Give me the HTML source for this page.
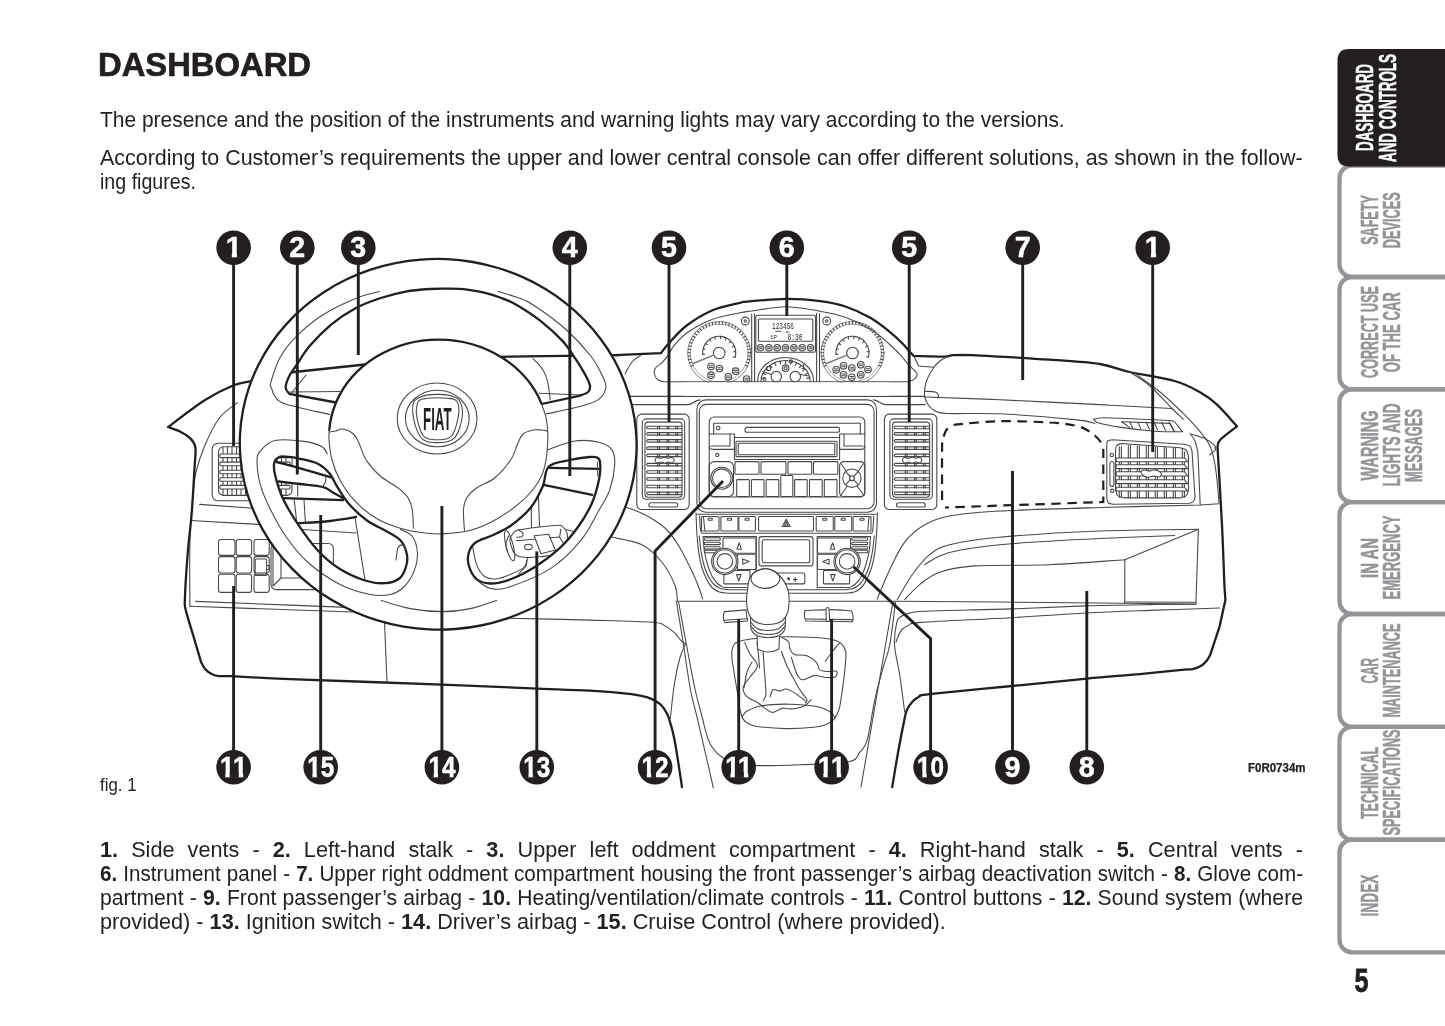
<!DOCTYPE html>
<html lang="en"><head><meta charset="utf-8"><title>Dashboard</title>
<style>
html,body{margin:0;padding:0;background:#fff;}
body{width:1445px;height:1026px;position:relative;overflow:hidden;font-family:"Liberation Sans",sans-serif;color:#231f20;}
.ln{position:absolute;white-space:nowrap;transform-origin:0 0;line-height:1;margin:0;}
.j{white-space:normal;text-align:justify;text-align-last:justify;}
b{font-weight:bold;}
svg{position:absolute;left:0;top:0;}
.k{fill:none;stroke:#231f20;stroke-width:2.3;stroke-linecap:round;stroke-linejoin:round;}
.m{fill:none;stroke:#231f20;stroke-width:1.5;stroke-linecap:round;stroke-linejoin:round;}
.t{fill:none;stroke:#4a4748;stroke-width:1.08;stroke-linecap:round;stroke-linejoin:round;}
.w{fill:#fff;}
.ld{fill:none;stroke:#231f20;stroke-width:2.9;stroke-linecap:butt;stroke-linejoin:miter;}
.cn{font-family:"Liberation Sans",sans-serif;font-weight:bold;fill:#fff;stroke:#fff;stroke-width:0.5;text-anchor:middle;}
.tab{font-family:"Liberation Sans",sans-serif;font-weight:bold;text-anchor:middle;}
#pg{position:absolute;left:0;top:0;width:1445px;height:1026px;will-change:transform;}
</style></head><body><div id="pg">
<div class="ln" style="left:98.2px;top:48.4px;font-size:33px;transform:scaleX(0.9930);font-weight:bold;-webkit-text-stroke:0.7px #231f20;"><b>DASHBOARD</b></div>
<div class="ln" style="left:99.5px;top:108.8px;font-size:22.6px;transform:scaleX(0.9277);">The presence and the position of the instruments and warning lights may vary according to the versions.</div>
<div class="ln" style="left:99.5px;top:146.6px;font-size:22.6px;transform:scaleX(0.9494);">According to Customer’s requirements the upper and lower central console can offer different solutions, as shown in the follow-</div>
<div class="ln" style="left:99.5px;top:170.7px;font-size:22.6px;transform:scaleX(0.8684);">ing figures.</div>
<div class="ln" style="left:99.5px;top:775.2px;font-size:19px;transform:scaleX(0.8861);">fig. 1</div>
<div class="ln j" style="left:99.5px;top:838.5px;font-size:22.6px;transform:scaleX(0.9589);width:1254.5px;"><b>1.</b> Side vents - <b>2.</b> Left-hand stalk - <b>3.</b> Upper left oddment compartment - <b>4.</b> Right-hand stalk - <b>5.</b> Central vents -</div>
<div class="ln j" style="left:99.5px;top:862.5px;font-size:22.6px;transform:scaleX(0.9124);width:1318.5px;"><b>6.</b> Instrument panel - <b>7.</b> Upper right oddment compartment housing the front passenger’s airbag deactivation switch - <b>8.</b> Glove com-</div>
<div class="ln j" style="left:99.5px;top:886.9px;font-size:22.6px;transform:scaleX(0.9366);width:1284.4px;">partment - <b>9.</b> Front passenger’s airbag - <b>10.</b> Heating/ventilation/climate controls - <b>11.</b> Control buttons - <b>12.</b> Sound system (where</div>
<div class="ln" style="left:99.5px;top:910.8px;font-size:22.6px;transform:scaleX(0.9589);">provided) - <b>13.</b> Ignition switch - <b>14.</b> Driver’s airbag - <b>15.</b> Cruise Control (where provided).</div>
<svg width="1445" height="1026" viewBox="0 0 1445 1026">
<path d="M1450,165.5 H1352 A12.5,12.5 0 0 0 1339.5,178 V264.5 A12.5,12.5 0 0 0 1352,277 H1450" fill="none" stroke="#939598" stroke-width="4.3"/>
<path d="M1450,277 H1352 A12.5,12.5 0 0 0 1339.5,289.5 V376.9 A12.5,12.5 0 0 0 1352,389.4 H1450" fill="none" stroke="#939598" stroke-width="4.3"/>
<path d="M1450,389.4 H1352 A12.5,12.5 0 0 0 1339.5,401.9 V489.7 A12.5,12.5 0 0 0 1352,502.2 H1450" fill="none" stroke="#939598" stroke-width="4.3"/>
<path d="M1450,502.2 H1352 A12.5,12.5 0 0 0 1339.5,514.7 V601.5 A12.5,12.5 0 0 0 1352,614 H1450" fill="none" stroke="#939598" stroke-width="4.3"/>
<path d="M1450,614 H1352 A12.5,12.5 0 0 0 1339.5,626.5 V714.3 A12.5,12.5 0 0 0 1352,726.8 H1450" fill="none" stroke="#939598" stroke-width="4.3"/>
<path d="M1450,726.8 H1352 A12.5,12.5 0 0 0 1339.5,739.3 V827.2 A12.5,12.5 0 0 0 1352,839.7 H1450" fill="none" stroke="#939598" stroke-width="4.3"/>
<path d="M1450,839.7 H1352 A12.5,12.5 0 0 0 1339.5,852.2 V939.8 A12.5,12.5 0 0 0 1352,952.3 H1450" fill="none" stroke="#939598" stroke-width="4.3"/>
<path d="M1450,49 H1349 Q1337.5,49 1337.5,60.5 V155 Q1337.5,166.5 1349,166.5 H1450Z" fill="#231f20"/>
<text class="tab" transform="translate(1373.2,107.5) rotate(-90)" font-size="23.6" fill="#fff" stroke="#fff" stroke-width="0.55" textLength="87" lengthAdjust="spacingAndGlyphs">DASHBOARD</text>
<text class="tab" transform="translate(1396,108) rotate(-90)" font-size="23.6" fill="#fff" stroke="#fff" stroke-width="0.55" textLength="108" lengthAdjust="spacingAndGlyphs">AND CONTROLS</text>
<text class="tab" transform="translate(1377.5,220) rotate(-90)" font-size="23.6" fill="#939598" stroke="#939598" stroke-width="0.55" textLength="49.5" lengthAdjust="spacingAndGlyphs">SAFETY</text>
<text class="tab" transform="translate(1400,220.3) rotate(-90)" font-size="23.6" fill="#939598" stroke="#939598" stroke-width="0.55" textLength="56" lengthAdjust="spacingAndGlyphs">DEVICES</text>
<text class="tab" transform="translate(1377.5,332) rotate(-90)" font-size="23.6" fill="#939598" stroke="#939598" stroke-width="0.55" textLength="92" lengthAdjust="spacingAndGlyphs">CORRECT USE</text>
<text class="tab" transform="translate(1400,332.2) rotate(-90)" font-size="23.6" fill="#939598" stroke="#939598" stroke-width="0.55" textLength="80" lengthAdjust="spacingAndGlyphs">OF THE CAR</text>
<text class="tab" transform="translate(1377.5,445.4) rotate(-90)" font-size="23.6" fill="#939598" stroke="#939598" stroke-width="0.55" textLength="70" lengthAdjust="spacingAndGlyphs">WARNING</text>
<text class="tab" transform="translate(1400,445) rotate(-90)" font-size="23.6" fill="#939598" stroke="#939598" stroke-width="0.55" textLength="83" lengthAdjust="spacingAndGlyphs">LIGHTS AND</text>
<text class="tab" transform="translate(1421.5,445.5) rotate(-90)" font-size="23.6" fill="#939598" stroke="#939598" stroke-width="0.55" textLength="73" lengthAdjust="spacingAndGlyphs">MESSAGES</text>
<text class="tab" transform="translate(1377.5,558) rotate(-90)" font-size="23.6" fill="#939598" stroke="#939598" stroke-width="0.55" textLength="40" lengthAdjust="spacingAndGlyphs">IN AN</text>
<text class="tab" transform="translate(1400,557.5) rotate(-90)" font-size="23.6" fill="#939598" stroke="#939598" stroke-width="0.55" textLength="84" lengthAdjust="spacingAndGlyphs">EMERGENCY</text>
<text class="tab" transform="translate(1377.5,670.8) rotate(-90)" font-size="23.6" fill="#939598" stroke="#939598" stroke-width="0.55" textLength="25.5" lengthAdjust="spacingAndGlyphs">CAR</text>
<text class="tab" transform="translate(1400,670.5) rotate(-90)" font-size="23.6" fill="#939598" stroke="#939598" stroke-width="0.55" textLength="94" lengthAdjust="spacingAndGlyphs">MAINTENANCE</text>
<text class="tab" transform="translate(1377.5,783) rotate(-90)" font-size="23.6" fill="#939598" stroke="#939598" stroke-width="0.55" textLength="72" lengthAdjust="spacingAndGlyphs">TECHNICAL</text>
<text class="tab" transform="translate(1400,782.4) rotate(-90)" font-size="23.6" fill="#939598" stroke="#939598" stroke-width="0.55" textLength="106" lengthAdjust="spacingAndGlyphs">SPECIFICATIONS</text>
<text class="tab" transform="translate(1377.5,895.5) rotate(-90)" font-size="23.6" fill="#939598" stroke="#939598" stroke-width="0.55" textLength="42" lengthAdjust="spacingAndGlyphs">INDEX</text>
<text x="1361.5" y="992" font-family="Liberation Sans,sans-serif" font-weight="bold" font-size="32.5" fill="#231f20" stroke="#231f20" stroke-width="0.8" text-anchor="middle" textLength="14" lengthAdjust="spacingAndGlyphs">5</text>
<text x="1248" y="772" font-family="Liberation Sans,sans-serif" font-weight="bold" font-size="12" fill="#231f20" stroke="#231f20" stroke-width="0.25" textLength="57.5" lengthAdjust="spacingAndGlyphs">F0R0734m</text>
<g class="t"><path d="M237.4,402.7 C234.4,405.2 224.8,410.9 219.4,418 C214,425.1 208.9,436 205,445 C201.1,454 198,463.7 196,472 C194,480.3 193.9,486.2 193,495 C192.1,503.8 191.1,514.2 190.5,525 C189.9,535.8 189.8,546.5 189.7,560 C189.6,573.5 189.9,598.6 189.9,606.3"/><rect x="212.2" y="443.2" width="62.8" height="57.6" rx="6"/><rect x="218.5" y="446.8" width="73.5" height="48.6" rx="5"/><path d="M223,447 V495 M227.5,447 V495 M232,447 V495 M236.5,447 V495 M241,447 V495 M245.5,447 V495 M250,447 V495 M254.5,447 V495 M259,447 V495 M263.5,447 V495 M268,447 V495 M272.5,447 V495 M277,447 V495 M281.5,447 V495 M286,447 V495"/><path class="w" d="M220.3,454 H289.5 Q291,455.8 289.5,457.6 H220.3 Q219.3,455.8 220.3,454Z"/><path class="w" d="M220.3,462.1 H289.5 Q291,463.9 289.5,465.7 H220.3 Q219.3,463.9 220.3,462.1Z"/><path class="w" d="M220.3,470.2 H289.5 Q291,472 289.5,473.8 H220.3 Q219.3,472 220.3,470.2Z"/><path class="w" d="M220.3,477.7 H289.5 Q291,479.5 289.5,481.3 H220.3 Q219.3,479.5 220.3,477.7Z"/><path class="w" d="M220.3,485.4 H289.5 Q291,487.2 289.5,489 H220.3 Q219.3,487.2 220.3,485.4Z"/><path d="M199.6,504.4 L250,508 L262,508.9"/><path d="M190.6,520.5 L253.6,524.1 L266,524.8"/><rect x="218.5" y="539.5" width="16.5" height="15.9" rx="2.5"/><rect x="218.5" y="556.6" width="16.5" height="16.4" rx="2.5"/><rect x="218.5" y="574.2" width="16.5" height="18.2" rx="2.5"/><rect x="236.2" y="539.5" width="15.4" height="15.9" rx="2.5"/><rect x="236.2" y="556.6" width="15.4" height="16.4" rx="2.5"/><rect x="236.2" y="574.2" width="15.4" height="18.2" rx="2.5"/><rect x="254" y="539.5" width="15.2" height="15.9" rx="2.5"/><rect x="254" y="556.6" width="15.2" height="16.4" rx="2.5"/><rect x="254" y="574.2" width="15.2" height="18.2" rx="2.5"/><rect x="255.2" y="559" width="11.4" height="16.5" rx="1"/><path d="M266.6,565.5 H269.2 V569.5 H266.6"/><rect x="271" y="543.5" width="62.4" height="46.1" rx="5"/><path d="M273,546 L273,586 L281,578 L281,548"/><path d="M281,578 H330"/><path d="M195.7,601.4 L290,605.1 L354,607.6"/><path d="M189.9,606.3 L290,609.8 L352,612"/><path d="M384.5,622 L387,681.8"/></g>
<g class="x"><path d="M274,461.3 L330.3,477.2 L343,498.1 L322.5,486.9 L274,481 Z" fill="#fff"/></g>
<g class="k"><path d="M276.7,462.1 C280.4,463.1 289.7,465.4 298.6,467.9 C307.5,470.4 325,475.6 330.3,477.2"/><path d="M278.6,481.5 C282.2,481.9 292.7,483.1 300,484 C307.3,484.9 317,485.5 322.5,486.9 C328,488.3 329.6,490.6 333,492.5 C336.4,494.4 341.3,497.2 343,498.1"/><path d="M283.5,498.1 L343,500.1"/></g>
<g class="t"><path d="M322.5,486.9 C323,486.1 324.8,483.6 325.4,482 C326,480.4 325.8,478 325.9,477.2"/></g>
<g class="k"><path d="M296.7,523.4 C302.2,523 320.1,522.1 330,521 C339.9,519.9 351.7,517.7 356,517"/></g>
<g class="t"><path d="M297.7,485 V496 M294.2,499.5 L296.7,522 M304,499.8 L305.4,522.5"/><path d="M355.2,518.7 L365,580"/><path d="M302,529.5 L356,533"/></g>
<g class="k"><path d="M543.6,484.8 L592.2,494.8"/><path d="M549.5,467.9 L598.6,468.9"/></g>
<g class="t"><path d="M597.3,462 L597.8,476"/><path d="M472.6,546.4 C473.3,549.4 474.6,559.4 476.6,564.4 C478.6,569.4 480.9,574.1 484.6,576.5 C488.3,578.9 492.2,579.9 498.6,578.5 C505,577.1 518,571.4 522.7,568.4 C527.4,565.4 526,561.7 526.7,560.4"/><path d="M512.8,550.7 C512.3,548.9 509.8,542.9 509.8,540 C509.8,537.1 511.6,535.1 513,533.5 C514.4,531.9 513.9,531.2 518.2,530.1 C522.5,529 532,527.9 538.7,527.1 C545.4,526.3 554.4,525.2 558.5,525.2 C562.6,525.2 561.7,525.9 563.1,527.1 C564.5,528.3 566.1,530.6 566.9,532.4 C567.6,534.2 567.5,537.1 567.6,538"/><path d="M512.8,550.7 C513.6,551.6 514.8,554.9 517.4,556 C520,557.1 524.3,557.4 528.1,557.5 C531.9,557.6 536,557.1 540,556.8 C544,556.4 550,555.6 552,555.4"/><ellipse cx="509.6" cy="545.8" rx="3.6" ry="15.5" transform="rotate(-14 509.6 545.8)"/><path d="M508.5,536 C508.1,537.3 506.2,541.3 506,544 C505.8,546.7 507.2,550.7 507.5,552"/><path d="M518.2,530.1 C518.9,530.5 521.8,531.5 522.5,532.6 C523.2,533.7 523.2,535.8 522.2,536.6 C521.2,537.4 517.7,537.1 516.8,537.2"/><path d="M534.1,535.8 L548.6,534.3 L555.4,549.9 L541,553.7 L534.1,535.8"/><path d="M516.3,540.8 L534.1,539.2"/><ellipse cx="528.4" cy="546.9" rx="3.8" ry="2.7"/><path d="M550.1,537.7 L559.6,537 L563.1,543.1"/><path d="M560.8,529.4 L559.6,537"/><path d="M531.1,498 L531.5,527.5 M538.3,492 L539.5,526.3"/><path d="M566.1,529.4 L573,531.3"/><path d="M527.3,558.3 C527,559.6 527.2,563.4 525.8,565.9 C524.4,568.4 520,572.2 518.9,573.5"/><path d="M622,506 C623.9,506.6 628.8,507.9 633.4,509.8 C638,511.7 644,513.9 649.6,517.3 C655.2,520.7 661.9,524.9 667,530 C672.1,535.1 675.7,540.9 680,548 C684.3,555.1 689.4,565.9 692.6,572.6 C695.8,579.3 697.3,583.6 699,588 C700.7,592.4 702.1,597.2 702.7,599"/><path d="M611.5,537.1 C616.6,538.4 633.4,540.5 641.9,544.7 C650.4,548.9 656.7,555.7 662.2,562.5 C667.7,569.3 672.4,579 674.9,585.3 C677.4,591.6 677,598 677.4,600.5"/><path d="M500,618 C515,618.4 564.6,619.4 590,620.1 C615.4,620.8 639.8,621.3 652.3,622.2 C664.8,623.1 661,624 664.7,625.7 C668.4,627.4 671.6,630.1 674.4,632.6 C677.2,635.1 679.4,639 681.3,640.9 C683.1,642.8 684.8,643.2 685.5,643.7"/><path d="M685.5,643.7 C684.6,646 681.9,650.8 680,657.5 C678.1,664.2 676,673.6 674.4,683.8 C672.8,693.9 671,712.6 670.3,718.4"/><path d="M641,355 C639.5,356.2 634.7,358.8 632,362 C629.3,365.2 626.2,372 625,374"/><path d="M628,396.4 H925"/><path d="M628,404.6 H688 C693,404.6 694,400.2 700,399.9"/><path d="M925,404.6 H885.5 C880.5,404.6 879.5,400.2 873.5,399.9"/></g>
<g class="k"><path d="M252,381 C248.7,381.8 239.8,382.8 232,386 C224.2,389.2 215.7,393.2 205,400 C194.3,406.8 174.2,422.5 168.1,427 L168.1,427 C170.2,427.8 176.7,429.8 180.4,431.7 C184.2,433.6 188.1,436 190.6,438.6 C193.1,441.2 194.7,442.9 195.4,447.5 C196.1,452.1 195.2,455.8 194.6,466.5 C194,477.2 192.9,498.1 191.8,512 C190.7,525.9 189,538.7 188,550 C187,561.3 186.4,571.1 185.8,580 C185.2,588.9 184.9,599.5 184.7,603.4 L184.7,603.4 C184.9,604.6 184.4,604.9 185.8,610.4 C187.2,615.9 192.1,631.8 193.4,636.1 L201,661.9 L201,661.9 C201.7,663.1 203.2,666.8 205.1,668.9 C206.9,671 209.8,673 212.1,674.2 C214.4,675.4 216,675.8 219.1,676.1 C222.2,676.4 228.9,676.1 230.8,676.1 L230.8,676.1 C240.7,676.6 254.8,677.7 290,679.1 C325.2,680.5 401.7,683.1 442,684.6 C482.3,686.1 507.3,687.4 532,688.4 C556.7,689.4 573.4,689.7 590,690.7 C606.6,691.7 621.8,693.1 631.5,694.2 C641.2,695.4 643.9,696.3 648.1,697.6 C652.4,698.9 654.7,700.6 657,702 C659.3,703.4 660.5,704.3 662,706 C663.5,707.7 664.9,709.9 666,712 C667.1,714.1 667.5,713.8 668.9,718.4 C670.3,723 672.3,728.3 674.5,739.7 C676.7,751.1 680.8,779.1 682,787"/><path d="M892.2,787 C893.2,780.8 896.5,761.2 898.5,750 C900.5,738.8 902.9,726.7 904.3,720 C905.7,713.3 905.6,712.9 907,709.8 C908.4,706.7 910.5,703.7 912.6,701.5 C914.7,699.3 916.7,697.7 919.5,696.5 C922.3,695.3 913.8,696 929.2,694.2 C944.6,692.5 985.7,688.6 1012,686 C1038.3,683.4 1065.7,680.6 1087,678.6 C1108.3,676.6 1123.8,675.6 1140,674.1 C1156.2,672.6 1175.6,670.5 1184.4,669.7 C1193.2,668.9 1189.9,669.8 1192.6,669.2 C1195.3,668.6 1198.4,667.4 1200.8,666 C1203.2,664.6 1205.1,662.6 1206.7,660.7 C1208.3,658.9 1209.6,655.9 1210.2,654.9 L1219.5,626.8 L1225.4,599.9 L1225.4,599.9 C1225.3,598.2 1224.9,593.3 1224.7,590 C1224.5,586.7 1224.7,590.8 1224.2,580 C1223.8,569.2 1223.1,547.2 1222,525 C1220.9,502.8 1218.2,460 1217.5,447 L1217.5,447 C1218,445.8 1217.2,442.9 1220.5,439.5 C1223.8,436.1 1234.2,428.5 1237,426.3 L1237,426.3 C1233.7,422.7 1223.2,410.3 1217,404.6 C1210.8,398.9 1206.7,395.9 1199.6,392 C1192.5,388.1 1186.2,384.3 1174.6,381 C1162.9,377.7 1142.2,374.8 1129.7,372 C1117.2,369.2 1113.1,366.1 1099.8,364 C1086.5,361.9 1066.6,360.9 1049.9,359.7 C1033.2,358.5 1012.9,357.4 999.9,356.7 C986.9,355.9 979.8,355.4 972,355.2 C964.2,354.9 957.6,355 953,355.2 C948.4,355.4 950.6,356.5 944.1,356.6 C937.6,356.7 918.8,356 913.7,355.9 L913.7,355.9 C913.1,355.3 911.8,354.2 909.9,352.1 C908,350 905.7,346.6 902.3,343.2 C898.9,339.8 895,336 889.7,331.8 C884.4,327.6 878.1,322.1 870.7,317.9 C863.3,313.7 853.8,309.3 845.3,306.5 C836.8,303.7 829.7,302.5 820,301.2 C810.3,299.9 799.2,298.8 787,298.9 C774.8,299 754.8,300.9 746.9,301.6 C739,302.3 745.7,301.4 739.9,302.9 C734.1,304.4 720.9,306.7 712,310.5 C703.1,314.3 693.9,320.1 686.7,325.5 C679.5,330.9 673.2,338.6 668.9,343.2 C664.6,347.8 662.2,351.5 660.9,353.2 L614.7,355.2"/><path d="M285,373 L365,364.5"/><path d="M500,356.8 L620,355.2"/></g>
<g class="t"><path d="M290,395 L306,375"/><path d="M290,392 L340,391.5"/><path d="M532.9,358.5 C534.6,360.4 540.5,366 543,370 C545.5,374 546.6,377.6 547.8,382.6 C549,387.6 549.8,397.1 550.2,400"/><path d="M539.5,393.3 L586,395.2"/></g>
<g class="t"><path d="M661.3,363.5 C660.3,364.2 656.6,366.2 655.5,368 C654.4,369.8 654.1,372.1 654.4,374 C654.7,375.9 655.9,378.2 657.5,379.5 C659.1,380.8 662.9,381.4 664,381.8 L908.7,381.8 L908.7,381.8 C909.8,381.3 913.6,380.1 915,378.7 C916.4,377.3 917.5,375.5 916.9,373.6 C916.3,371.7 912.8,369 911.2,367.3 C909.6,365.6 908.9,365.2 907.4,363.5 C905.9,361.8 905.2,360.3 902.3,357.1 C899.3,353.9 895,349.1 889.7,344.5 C884.4,339.9 878.1,333.9 870.7,329.3 C863.3,324.8 853.8,320.2 845.3,317.2 C836.8,314.2 830,312.9 820,311.2 C810,309.5 796.9,306.8 785.6,306.8 C774.3,306.8 759.6,310 752,311 C744.4,312 746.6,311.4 739.9,312.8 C733.2,314.2 720.9,316.1 712,319.5 C703.1,322.9 693,328.6 686.7,333 C680.4,337.4 677.2,341.9 674,345.7 C670.8,349.5 669.8,352.9 667.7,355.9 C665.6,358.9 662.4,362.2 661.3,363.5"/><path d="M913.7,355.9 L918.8,366 L934,367.3"/><path d="M751.7,314.3 V381.5 M754.6,313.8 V381.5 M816.6,313.2 V381.5 M819.5,313.6 V381.5"/><circle cx="719.2" cy="353" r="31.5" stroke-width="0.7"/><circle cx="719.2" cy="353" r="28.9" stroke-width="0.5"/><path d="M693,365.2 L690.9,366.2 M691.8,362.2 L689.6,363 M691,359.1 L688.7,359.6 M690.4,355.9 L688.2,356.2 M690.3,352.7 L688,352.7 M690.5,349.5 L688.2,349.2 M691.1,346.3 L688.8,345.8 M692,343.2 L689.8,342.5 M693.2,340.3 L691.2,339.3 M694.8,337.5 L692.9,336.2 M696.7,334.9 L694.9,333.4 M698.9,332.5 L697.2,330.8 M701.3,330.3 L699.8,328.5 M703.9,328.5 L702.7,326.5 M706.7,326.9 L705.7,324.9 M709.7,325.7 L709,323.5 M712.8,324.8 L712.3,322.6 M716,324.3 L715.7,322 M719.2,324.1 L719.2,321.8 M722.4,324.3 L722.7,322 M725.6,324.8 L726.1,322.6 M728.7,325.7 L729.4,323.5 M731.7,326.9 L732.7,324.9 M734.5,328.5 L735.7,326.5 M737.1,330.3 L738.6,328.5 M739.5,332.5 L741.2,330.8 M741.7,334.9 L743.5,333.4 M743.6,337.5 L745.5,336.2 M745.2,340.3 L747.2,339.3 M746.4,343.2 L748.6,342.5 M747.3,346.3 L749.6,345.8 M747.9,349.5 L750.2,349.2 M748.1,352.7 L750.4,352.7 M748,355.9 L750.2,356.2 M747.4,359.1 L749.7,359.6 M746.6,362.2 L748.8,363 M745.4,365.2 L747.5,366.2 "/><path d="M702.8,354.4 A16.5,16.5 0 1 1 735.1,357.3"/><path d="M702.8,354.4 L704.8,354.3 M703.3,348.7 L705.2,349.2 M705.7,343.5 L707.3,344.7 M709.7,339.5 L710.9,341.1 M714.9,337.1 L715.4,339 M720.6,336.6 L720.5,338.6 M726.2,338 L725.3,339.9 M730.9,341.3 L729.5,342.7 M734.2,346 L732.3,346.9 M735.6,351.6 L733.6,351.7 M735.1,357.3 L733.2,356.8 "/><circle cx="719.2" cy="353" r="5.8"/><path stroke="#777" stroke-width="1.4" d="M713.6,355.2 L693.2,363.5"/><circle cx="852.5" cy="353" r="31.5" stroke-width="0.7"/><circle cx="852.5" cy="353" r="28.9" stroke-width="0.5"/><path d="M826.3,365.2 L824.2,366.2 M825.1,362.2 L822.9,363 M824.3,359.1 L822,359.6 M823.7,355.9 L821.5,356.2 M823.6,352.7 L821.3,352.7 M823.8,349.5 L821.5,349.2 M824.4,346.3 L822.1,345.8 M825.3,343.2 L823.1,342.5 M826.5,340.3 L824.5,339.3 M828.1,337.5 L826.2,336.2 M830,334.9 L828.2,333.4 M832.2,332.5 L830.5,330.8 M834.6,330.3 L833.1,328.5 M837.2,328.5 L836,326.5 M840,326.9 L839,324.9 M843,325.7 L842.3,323.5 M846.1,324.8 L845.6,322.6 M849.3,324.3 L849,322 M852.5,324.1 L852.5,321.8 M855.7,324.3 L856,322 M858.9,324.8 L859.4,322.6 M862,325.7 L862.7,323.5 M865,326.9 L866,324.9 M867.8,328.5 L869,326.5 M870.4,330.3 L871.9,328.5 M872.8,332.5 L874.5,330.8 M875,334.9 L876.8,333.4 M876.9,337.5 L878.8,336.2 M878.5,340.3 L880.5,339.3 M879.7,343.2 L881.9,342.5 M880.6,346.3 L882.9,345.8 M881.2,349.5 L883.5,349.2 M881.4,352.7 L883.7,352.7 M881.3,355.9 L883.5,356.2 M880.7,359.1 L883,359.6 M879.9,362.2 L882.1,363 M878.7,365.2 L880.8,366.2 "/><path d="M836.1,354.4 A16.5,16.5 0 1 1 868.4,357.3"/><path d="M836.1,354.4 L838.1,354.3 M836.6,348.7 L838.5,349.2 M839,343.5 L840.6,344.7 M843,339.5 L844.2,341.1 M848.2,337.1 L848.7,339 M853.9,336.6 L853.8,338.6 M859.5,338 L858.6,339.9 M864.2,341.3 L862.8,342.7 M867.5,346 L865.6,346.9 M868.9,351.6 L866.9,351.7 M868.4,357.3 L866.5,356.8 "/><circle cx="852.5" cy="353" r="5.8"/><path stroke="#777" stroke-width="1.4" d="M846.9,355.2 L826.5,363.5"/><rect x="755.8" y="315.2" width="59.7" height="37" rx="1.5"/><rect x="758.5" y="319" width="54.3" height="22.3" rx="1"/></g>
<g class="x"><text x="772" y="328.5" font-family="Liberation Mono,monospace" font-size="8.5" textLength="22" lengthAdjust="spacingAndGlyphs" fill="#231f20">123456</text><text x="787.5" y="339.5" font-family="Liberation Mono,monospace" font-size="9.5" textLength="15" lengthAdjust="spacingAndGlyphs" fill="#231f20">8:30</text><text x="770" y="338.5" font-family="Liberation Mono,monospace" font-size="6" textLength="7" lengthAdjust="spacingAndGlyphs" fill="#231f20">1P</text></g>
<g class="t"><path d="M776,331.3 h5 M786,332 h3"/><circle cx="760.5" cy="347.7" r="3.2"/><path d="M758.7,346.9 h3.6 M758.7,348.7 h3.6"/><circle cx="768.9" cy="347.7" r="3.2"/><path d="M767.1,346.9 h3.6 M767.1,348.7 h3.6"/><circle cx="777.2" cy="347.7" r="3.2"/><path d="M775.4,346.9 h3.6 M775.4,348.7 h3.6"/><circle cx="785.5" cy="347.7" r="3.2"/><path d="M783.8,346.9 h3.6 M783.8,348.7 h3.6"/><circle cx="793.9" cy="347.7" r="3.2"/><path d="M792.1,346.9 h3.6 M792.1,348.7 h3.6"/><circle cx="802.2" cy="347.7" r="3.2"/><path d="M800.5,346.9 h3.6 M800.5,348.7 h3.6"/><circle cx="810.6" cy="347.7" r="3.2"/><path d="M808.8,346.9 h3.6 M808.8,348.7 h3.6"/><circle cx="745.3" cy="321" r="3.9"/><circle cx="745.3" cy="321" r="1.2"/><circle cx="826.7" cy="321" r="3.9"/><circle cx="826.7" cy="321" r="1.2"/><path d="M757.6,381.5 A28,24 0 0 1 813.6,381.5"/><path d="M761,381.5 A24.6,21 0 0 1 810.2,381.5"/><path d="M761.4,377.9 L764.4,378.4 M763,373.2 L765.9,374.4 M765.9,369 L768.4,370.8 M769.8,365.4 L771.8,367.7 M774.6,362.7 L776,365.4 M779.9,361.1 L780.6,364 M785.6,360.5 L785.6,363.5 M791.3,361.1 L790.6,364 M796.6,362.7 L795.2,365.4 M801.4,365.4 L799.4,367.7 M805.3,369 L802.8,370.8 M808.2,373.2 L805.3,374.4 M809.8,377.9 L806.8,378.4 "/><circle cx="776.3" cy="376.6" r="5.2"/><circle cx="795.3" cy="376.6" r="5.2"/><path d="M771.5,374.5 L763,371.5 M800,374.5 L809,376"/><circle cx="785.6" cy="368.2" r="3.3"/><circle cx="785.6" cy="368.2" r="1.6"/><circle cx="791" cy="361.5" r="1.6"/><circle cx="764.5" cy="379" r="1.5"/><rect x="766.8" y="366.5" width="3.6" height="4" rx="0.8"/><path d="M803.5,364.5 v4 h-1.5"/><circle cx="711" cy="366.5" r="3.3"/><path d="M709.2,365.7 h3.6 M709.2,367.5 h3.6"/><circle cx="719.5" cy="368.5" r="3.3"/><path d="M717.7,367.7 h3.6 M717.7,369.5 h3.6"/><circle cx="711" cy="375.2" r="3.3"/><path d="M709.2,374.4 h3.6 M709.2,376.2 h3.6"/><circle cx="728.3" cy="376.8" r="3.3"/><path d="M726.5,376 h3.6 M726.5,377.8 h3.6"/><circle cx="735.6" cy="371.2" r="3.3"/><path d="M733.8,370.4 h3.6 M733.8,372.2 h3.6"/><circle cx="746.6" cy="379" r="3.2"/><path d="M744.8,378.2 h3.6 M744.8,380 h3.6"/><circle cx="836.2" cy="369.8" r="3.3"/><path d="M834.4,369 h3.6 M834.4,370.8 h3.6"/><circle cx="843.5" cy="365.8" r="3.3"/><path d="M841.7,365 h3.6 M841.7,366.8 h3.6"/><circle cx="851.8" cy="368" r="3.3"/><path d="M850,367.2 h3.6 M850,369 h3.6"/><circle cx="860.8" cy="364.8" r="3.3"/><path d="M859,364 h3.6 M859,365.8 h3.6"/><circle cx="868" cy="369.5" r="3.3"/><path d="M866.2,368.7 h3.6 M866.2,370.5 h3.6"/><circle cx="843.5" cy="374.8" r="3.3"/><path d="M841.7,374 h3.6 M841.7,375.8 h3.6"/><circle cx="851.8" cy="377.3" r="3.3"/><path d="M850,376.5 h3.6 M850,378.3 h3.6"/><circle cx="860.8" cy="374.8" r="3.3"/><path d="M859,374 h3.6 M859,375.8 h3.6"/></g>
<g class="x"><rect x="684" y="382.5" width="206" height="13.2" fill="#fff"/></g>
<g class="t"><rect x="696.9" y="399.9" width="179.6" height="112.4" rx="9"/><rect x="699.3" y="404.4" width="174.8" height="104.3" rx="7"/><rect x="636.8" y="414.1" width="52.4" height="95.4" rx="5"/><rect x="642.3" y="418.9" width="42.4" height="80.4" rx="4"/><rect x="645" y="422.1" width="37" height="75.1" rx="3"/><path d="M681.7,426.2 H647.5 Q645.8,427.5 647.5,428.8 H681.7 M681.7,432.6 H647.5 Q645.8,433.9 647.5,435.1 H681.7 M681.7,439.6 H647.5 Q645.8,440.9 647.5,442.1 H681.7 M681.7,446.9 H647.5 Q645.8,448.2 647.5,449.4 H681.7 M681.7,454.1 H647.5 Q645.8,455.4 647.5,456.6 H681.7 M681.7,463.4 H647.5 Q645.8,464.7 647.5,465.9 H681.7 M681.7,470.8 H647.5 Q645.8,472 647.5,473.2 H681.7 M681.7,477.8 H647.5 Q645.8,479 647.5,480.2 H681.7 M681.7,485.2 H647.5 Q645.8,486.5 647.5,487.8 H681.7 M681.7,492.1 H647.5 Q645.8,493.3 647.5,494.6 H681.7 "/><path d="M657.7,426.2 v2.5 M657.7,432.6 v2.5 M657.7,439.6 v2.5 M657.7,446.9 v2.5 M657.7,454.1 v2.5 M657.7,463.4 v2.5 M657.7,470.8 v2.5 M657.7,477.8 v2.5 M657.7,485.2 v2.5 M657.7,492.1 v2.5 M659.5,426.2 v2.5 M659.5,432.6 v2.5 M659.5,439.6 v2.5 M659.5,446.9 v2.5 M659.5,454.1 v2.5 M659.5,463.4 v2.5 M659.5,470.8 v2.5 M659.5,477.8 v2.5 M659.5,485.2 v2.5 M659.5,492.1 v2.5 M667,426.2 v2.5 M667,432.6 v2.5 M667,439.6 v2.5 M667,446.9 v2.5 M667,454.1 v2.5 M667,463.4 v2.5 M667,470.8 v2.5 M667,477.8 v2.5 M667,485.2 v2.5 M667,492.1 v2.5 M668.7,426.2 v2.5 M668.7,432.6 v2.5 M668.7,439.6 v2.5 M668.7,446.9 v2.5 M668.7,454.1 v2.5 M668.7,463.4 v2.5 M668.7,470.8 v2.5 M668.7,477.8 v2.5 M668.7,485.2 v2.5 M668.7,492.1 v2.5 M675.8,426.2 v2.5 M675.8,432.6 v2.5 M675.8,439.6 v2.5 M675.8,446.9 v2.5 M675.8,454.1 v2.5 M675.8,463.4 v2.5 M675.8,470.8 v2.5 M675.8,477.8 v2.5 M675.8,485.2 v2.5 M675.8,492.1 v2.5 M677.6,426.2 v2.5 M677.6,432.6 v2.5 M677.6,439.6 v2.5 M677.6,446.9 v2.5 M677.6,454.1 v2.5 M677.6,463.4 v2.5 M677.6,470.8 v2.5 M677.6,477.8 v2.5 M677.6,485.2 v2.5 M677.6,492.1 v2.5 "/><path class="w" d="M655,460.2 C655,459.3 656,457.9 657,457.6 C658,457.3 659.7,458.3 661,458.2 C662.3,458.1 663.4,457.2 664.6,457.2 C665.9,457.2 667.3,458.2 668.5,458.2 C669.7,458.2 671,457.1 672,457.4 C673,457.7 674.2,459.3 674.2,460.2 C674.2,461.1 673,462.7 672,463 C671,463.3 669.7,462 668.5,462 C667.3,462 665.9,463.2 664.6,463.2 C663.4,463.2 662.3,462 661,462 C659.7,462 658,463.3 657,463 C656,462.7 655,461.1 655,460.2Z"/><rect x="648.9" y="502.8" width="28.8" height="4.2" rx="2.1"/><rect x="884.4" y="414.1" width="52.4" height="95.4" rx="5"/><rect x="889.9" y="418.9" width="42.4" height="80.4" rx="4"/><rect x="892.6" y="422.1" width="37" height="75.1" rx="3"/><path d="M929.3,426.2 H895.1 Q893.4,427.5 895.1,428.8 H929.3 M929.3,432.6 H895.1 Q893.4,433.9 895.1,435.1 H929.3 M929.3,439.6 H895.1 Q893.4,440.9 895.1,442.1 H929.3 M929.3,446.9 H895.1 Q893.4,448.2 895.1,449.4 H929.3 M929.3,454.1 H895.1 Q893.4,455.4 895.1,456.6 H929.3 M929.3,463.4 H895.1 Q893.4,464.7 895.1,465.9 H929.3 M929.3,470.8 H895.1 Q893.4,472 895.1,473.2 H929.3 M929.3,477.8 H895.1 Q893.4,479 895.1,480.2 H929.3 M929.3,485.2 H895.1 Q893.4,486.5 895.1,487.8 H929.3 M929.3,492.1 H895.1 Q893.4,493.3 895.1,494.6 H929.3 "/><path d="M905.3,426.2 v2.5 M905.3,432.6 v2.5 M905.3,439.6 v2.5 M905.3,446.9 v2.5 M905.3,454.1 v2.5 M905.3,463.4 v2.5 M905.3,470.8 v2.5 M905.3,477.8 v2.5 M905.3,485.2 v2.5 M905.3,492.1 v2.5 M907.1,426.2 v2.5 M907.1,432.6 v2.5 M907.1,439.6 v2.5 M907.1,446.9 v2.5 M907.1,454.1 v2.5 M907.1,463.4 v2.5 M907.1,470.8 v2.5 M907.1,477.8 v2.5 M907.1,485.2 v2.5 M907.1,492.1 v2.5 M914.6,426.2 v2.5 M914.6,432.6 v2.5 M914.6,439.6 v2.5 M914.6,446.9 v2.5 M914.6,454.1 v2.5 M914.6,463.4 v2.5 M914.6,470.8 v2.5 M914.6,477.8 v2.5 M914.6,485.2 v2.5 M914.6,492.1 v2.5 M916.3,426.2 v2.5 M916.3,432.6 v2.5 M916.3,439.6 v2.5 M916.3,446.9 v2.5 M916.3,454.1 v2.5 M916.3,463.4 v2.5 M916.3,470.8 v2.5 M916.3,477.8 v2.5 M916.3,485.2 v2.5 M916.3,492.1 v2.5 M923.4,426.2 v2.5 M923.4,432.6 v2.5 M923.4,439.6 v2.5 M923.4,446.9 v2.5 M923.4,454.1 v2.5 M923.4,463.4 v2.5 M923.4,470.8 v2.5 M923.4,477.8 v2.5 M923.4,485.2 v2.5 M923.4,492.1 v2.5 M925.2,426.2 v2.5 M925.2,432.6 v2.5 M925.2,439.6 v2.5 M925.2,446.9 v2.5 M925.2,454.1 v2.5 M925.2,463.4 v2.5 M925.2,470.8 v2.5 M925.2,477.8 v2.5 M925.2,485.2 v2.5 M925.2,492.1 v2.5 "/><path class="w" d="M902.6,460.2 C902.6,459.3 903.6,457.9 904.6,457.6 C905.6,457.3 907.3,458.3 908.6,458.2 C909.9,458.1 911,457.2 912.2,457.2 C913.5,457.2 914.9,458.2 916.1,458.2 C917.3,458.2 918.6,457.1 919.6,457.4 C920.6,457.7 921.8,459.3 921.8,460.2 C921.8,461.1 920.6,462.7 919.6,463 C918.6,463.3 917.3,462 916.1,462 C914.9,462 913.5,463.2 912.2,463.2 C911,463.2 909.9,462 908.6,462 C907.3,462 905.6,463.3 904.6,463 C903.6,462.7 902.6,461.1 902.6,460.2Z"/><rect x="896.5" y="502.8" width="28.8" height="4.2" rx="2.1"/><rect x="709.2" y="417" width="155.6" height="80" rx="5"/><path d="M713.7,434 V423.3 H860.3 V434"/><rect x="745" y="427.4" width="94.6" height="4.9" rx="2"/><circle cx="718.2" cy="428.1" r="1.8"/><circle cx="717.3" cy="455" r="1.6"/><path d="M709.2,434 H734.4 V449.4 H713 Q709.4,449.4 709.4,446"/><path d="M730,434 V446 H711"/><path d="M864.8,434 H839.6 V449.4 H861 Q864.6,449.4 864.6,446"/><path d="M844,434 V446 H863"/><path d="M734.4,437.5 H839.6"/><rect x="736" y="441.3" width="101" height="15.3" rx="0.8"/><rect x="738.2" y="443.2" width="96.6" height="11.6" rx="0.5"/><path d="M734.4,449.4 V459.5 H839.6 V449.4"/><rect x="735" y="461.6" width="24" height="12.6" rx="0.8"/><rect x="761" y="461.6" width="25" height="12.6" rx="0.8"/><rect x="788" y="461.6" width="23.7" height="12.6" rx="0.8"/><rect x="813.5" y="461.6" width="24.3" height="12.6" rx="0.8"/><rect x="736.7" y="479.6" width="12.6" height="16.9" rx="0.8"/><rect x="751.4" y="479.6" width="12.6" height="16.9" rx="0.8"/><rect x="766.2" y="479.6" width="12.6" height="16.9" rx="0.8"/><rect x="794.6" y="479.6" width="12.6" height="16.9" rx="0.8"/><rect x="809.5" y="479.6" width="12.7" height="16.9" rx="0.8"/><rect x="824.3" y="479.6" width="12.7" height="16.9" rx="0.8"/><rect x="780.8" y="475.5" width="12" height="21" rx="1"/><rect x="709.2" y="461.6" width="24.3" height="34.9" rx="5"/><circle cx="721.8" cy="478.2" r="11"/><circle cx="721.8" cy="478.2" r="9.3"/><rect x="839.6" y="461.6" width="25.2" height="34.9" rx="4"/><path d="M840.5,463 L864,495.5 M864,463 L840.5,495.5"/><circle class="w" cx="851.9" cy="478.2" r="9.2"/><circle cx="851.9" cy="478.2" r="2.4"/><path d="M845.5,471.7 L850.2,476.5 M858.3,471.7 L853.6,476.5 M845.5,484.7 L850.2,479.9 M858.3,484.7 L853.6,479.9"/><path d="M697,514.2 H876.4"/><path d="M699.5,516 C699.7,518.3 700.1,527.1 700.5,530 C700.9,532.9 701.8,532.7 702,533.2 L871.3,533.2 L871.3,533.2 C871.5,532.7 872.4,532.9 872.8,530 C873.2,527.1 873.6,518.3 873.8,516"/><rect x="701.5" y="516.5" width="17.5" height="14.5" rx="0.8"/><rect x="708.2" y="518.3" width="4" height="2" rx="0.4"/><rect x="720.9" y="516.5" width="17.1" height="14.5" rx="0.8"/><rect x="727.5" y="518.3" width="4" height="2" rx="0.4"/><rect x="738.9" y="516.5" width="16.5" height="14.5" rx="0.8"/><rect x="745.1" y="518.3" width="4" height="2" rx="0.4"/><rect x="816.2" y="516.5" width="17.1" height="14.5" rx="0.8"/><rect x="822.8" y="518.3" width="4" height="2" rx="0.4"/><rect x="834.8" y="516.5" width="16.9" height="14.5" rx="0.8"/><rect x="841.2" y="518.3" width="4" height="2" rx="0.4"/><rect x="853.1" y="516.5" width="17.9" height="14.5" rx="0.8"/><rect x="860" y="518.3" width="4" height="2" rx="0.4"/><path d="M703.5,517 L704.8,530.5 M869,517 L867.8,530.5"/><rect x="758.6" y="516.5" width="54.9" height="14.5" rx="0.8"/><path d="M786.2,519.2 L790.2,526.5 H782.2 Z M786.2,521.7 L788,525.2 H784.4 Z"/><path d="M696,513 C696.2,516.7 696.5,528.4 697,535 C697.5,541.6 697.9,546.9 698.7,552.4 C699.5,557.9 700.6,563.5 702,568 C703.4,572.5 705.1,576.1 706.8,579.4 C708.5,582.6 709.9,585.4 712,587.5 C714.1,589.6 716.7,591 719.4,592 C722.1,593 726.6,593 728,593.2 L845.5,593.2 L845.5,593.2 C847,593 851.6,593 854.3,592 C857,591 859.4,589.6 861.5,587.5 C863.6,585.4 865,582.6 866.7,579.4 C868.4,576.1 870.1,572.5 871.5,568 C872.9,563.5 874,557.9 874.8,552.4 C875.6,546.9 876,541.6 876.5,535 C877,528.4 877.3,516.7 877.5,513"/><path d="M699.3,536 C699.6,538.7 700.3,547.2 701.2,552.4 C702.1,557.6 703.2,562.8 704.5,567 C705.8,571.2 707.4,574.6 709,577.5 C710.6,580.4 712.1,582.7 714,584.5 C715.9,586.3 718.2,587.6 720.5,588.5 C722.8,589.4 726.8,589.5 728,589.7 L845.5,589.7 L845.5,589.7 C846.8,589.5 850.7,589.4 853,588.5 C855.3,587.6 857.6,586.3 859.5,584.5 C861.4,582.7 862.9,580.4 864.5,577.5 C866.1,574.6 867.7,571.2 869,567 C870.3,562.8 871.4,557.6 872.3,552.4 C873.2,547.2 873.9,538.7 874.2,536"/><path d="M703,536.6 C703.2,539.2 703.7,547.1 704.5,552 C705.3,556.9 706.7,561.8 708,566 C709.3,570.2 710.8,574 712.5,577 C714.2,580 716.1,582.2 718,584 C719.9,585.8 723,586.9 724,587.5 L756.3,587.5 V536.6 Z"/><path d="M870.5,536.6 C870.2,539.2 869.8,547.1 869,552 C868.2,556.9 866.8,561.8 865.5,566 C864.2,570.2 862.7,574 861,577 C859.3,580 857.4,582.2 855.5,584 C853.6,585.8 850.5,586.9 849.5,587.5 L817.2,587.5 V536.6 Z"/><rect x="759" y="536.6" width="54" height="29.3" rx="2.5"/><rect x="762.2" y="539.8" width="47.5" height="23" rx="2"/><rect x="723" y="538" width="33" height="15.3" rx="1"/><rect x="737.4" y="554.3" width="18.6" height="15.2" rx="1"/><rect x="723.9" y="570.4" width="26.1" height="13.5" rx="1"/><rect x="817.5" y="538" width="33" height="15.3" rx="1"/><rect x="817.5" y="554.3" width="18.6" height="15.2" rx="1"/><rect x="823.5" y="570.4" width="26.1" height="13.5" rx="1"/><path d="M739.2,542.8 L741.4,549.2 H737 Z M742.7,559 L749,561.6 L742.7,564.2 Z M738.8,581 L736.6,574.6 H741 Z"/><path d="M832.6,542.8 L834.8,549.2 H830.4 Z M829.1,559 L822.8,561.6 L829.1,564.2 Z M832.8,581 L830.6,574.6 H835 Z"/><rect x="704.3" y="537.8" width="16" height="2.4" rx="1"/><rect x="851.7" y="537.8" width="16" height="2.4" rx="1"/><rect x="704.3" y="542.2" width="16" height="2.4" rx="1"/><rect x="851.7" y="542.2" width="16" height="2.4" rx="1"/><rect x="704.3" y="546.7" width="16" height="2.4" rx="1"/><rect x="851.7" y="546.7" width="16" height="2.4" rx="1"/><rect x="704.3" y="550.3" width="16" height="2.4" rx="1"/><rect x="851.7" y="550.3" width="16" height="2.4" rx="1"/><circle class="w" cx="724.8" cy="561.4" r="13.2"/><circle cx="724.8" cy="561.4" r="11.6"/><circle cx="724.8" cy="561.4" r="7.8"/><circle class="w" cx="847.1" cy="561.4" r="13.2"/><circle cx="847.1" cy="561.4" r="11.6"/><circle cx="847.1" cy="561.4" r="7.8"/><rect x="776" y="573" width="28.8" height="10.9" rx="2"/></g>
<g class="x"><text x="787" y="583.4" font-family="Liberation Sans,sans-serif" font-weight="bold" font-size="8.5" fill="#231f20">* +</text></g>
<g class="t"><path d="M675.8,601.3 H897.5"/><path d="M676.5,602 C677.7,609.2 681.2,630.3 683.5,645 C685.8,659.7 688.1,677.3 690.5,690 C692.9,702.7 694.2,704.9 698,721.2 C701.8,737.5 710.8,776.5 713.3,787.6"/><path d="M678.6,602 C679.9,609.2 683.7,630.3 686.5,645 C689.3,659.7 692.6,678.2 695.2,690 C697.8,701.8 700,708.6 701.9,716 C703.8,723.4 705.2,729.9 706.6,734.6 C708,739.3 708.6,741 710.2,744 C711.8,747 714.3,750 716.4,752.3 C718.5,754.5 719.7,755.7 722.7,757.5 C725.7,759.3 728.6,761.6 734.5,763 C740.4,764.4 747.1,765.3 758,765.6 C768.9,765.9 784.9,765.3 800,764.7 C815.1,764.1 838.6,763.9 848.6,761.8 C858.6,759.7 856.7,755.9 859.8,752.2 C862.9,748.5 864.8,748.4 867.3,739.7 C869.8,731 872.2,711.8 874.8,699.8 C877.4,687.8 880.5,677.1 883,668 C885.5,658.9 887.6,656 889.7,645 C891.8,634 894.5,609.2 895.5,602"/><path d="M893,601.5 L861,787"/><path d="M724.5,611.6 L746,609.9 L747.5,621 L724.8,622.6 Q722,617 724.5,611.6Z"/><path d="M724,620.2 L747.3,618.7"/><path d="M805,610.5 C809.2,610.4 822.2,609.5 830,609.6 C837.8,609.7 847.9,610.7 851.5,610.9 Q854.2,616 852.5,621.8 L806,621 Q803.3,616 805,610.5Z"/><path d="M805.5,619 L852.8,619.6"/><path class="w" d="M826,608.5 Q827.5,606.5 829,608.5 L829.6,620.5 Q828,622.3 826.3,620.5Z"/><path d="M732.7,647.3 C733.4,644.7 734.2,644 736,642.8 C737.8,641.6 739.3,641 743.3,640.2 C747.3,639.4 752.9,638.6 760,638 C767.1,637.4 777.4,636.8 785.7,636.7 C794,636.6 802.9,636.9 810,637.3 C817.1,637.6 823.6,638.2 828.1,638.8 C832.6,639.4 834.6,640 837,641 C839.4,642 840.7,642.7 842.2,644.5 C843.7,646.3 845.3,648.2 845.8,651.6 C846.3,655 845.6,660.3 845.3,665 C844.9,669.7 844.7,672.6 843.7,679.8 C842.7,687 841,701.5 839.4,708.1 C837.8,714.7 836,716.7 833.8,719.4 C831.6,722.1 829.3,723.2 826,724.5 C822.7,725.8 820.7,726.5 814,727.2 C807.3,727.9 795.1,728.7 785.7,728.6 C776.3,728.5 763.5,727.3 757.4,726.5 C751.3,725.7 751.4,725 749,723.8 C746.6,722.6 744.9,722 743.3,719.4 C741.7,716.8 740.5,712.2 739.5,708 C738.5,703.8 738.9,702.2 737.6,694 C736.4,685.8 732.8,666.4 732,658.6 C731.2,650.8 732,649.9 732.7,647.3Z"/><path d="M741.9,716.6 C742.8,715.7 744.4,712.6 747,711 C749.6,709.4 753.2,707.8 757.4,706.7 C761.6,705.6 766.6,705 772,704.6 C777.4,704.2 783,704 790,704.2 C797,704.4 808,705.1 814,706 C820,706.9 822.9,708.2 826,709.5 C829.1,710.8 830.9,712.4 832.4,713.8 C833.9,715.2 834.7,717.3 835.2,718"/><path d="M744.7,642.4 C745.6,644.3 747.9,650.1 750,654 C752.1,657.9 757.4,661.9 757.4,665.7 C757.4,669.5 752.4,673.5 750,677 C747.6,680.5 744.2,684.1 743.3,686.9 C742.4,689.7 743.6,692 744.7,694 C745.8,696 747.9,697.4 750,698.8 C752.1,700.2 755.1,701 757.4,702.5 C759.7,704 761.6,705.9 764,707.5 C766.4,709.1 769.4,711.8 771.6,712.3 C773.8,712.8 775.1,711.5 777,710.8 C778.9,710.1 781.1,708.4 782.9,708.1 C784.7,707.8 786.1,708.7 788,708.8 C789.9,708.9 792.2,709 794.2,708.8 C796.2,708.6 798.1,708.1 800,707.5 C801.9,706.9 803.6,706.6 805.5,705.3 C807.4,704 810.2,700.5 811.1,699.6"/><path d="M781.5,637.4 C782.7,638.1 787.1,639.8 788.5,641.7 C789.9,643.6 788.9,646.6 789.9,648.7 C790.9,650.8 791.4,653.2 794.2,654.4 C797,655.6 803.1,654.4 806.9,655.8 C810.7,657.2 814.7,660.5 816.8,662.9 C818.9,665.2 817.7,668.5 819.6,669.9 C821.5,671.3 825.2,671.3 828,671.5 C830.8,671.7 835.4,670.4 836.6,671.3 C837.8,672.2 837,676 835.2,677 C833.4,678 829.5,677.7 826,677.5 C822.5,677.3 817.9,675.2 814,675.6 C810.1,676 805.5,680 802.7,679.8 C799.9,679.6 798.9,678 797,674.2 C795.1,670.4 792.2,660 791.3,657.2"/><path d="M763.1,651.6 C763.3,655 764,664.9 764.5,672 C765,679.1 766.1,689.2 765.9,694 C765.7,698.8 763.6,699.8 763.1,701"/><path d="M781.5,651.6 C782.4,654 784.9,661.3 787,666 C789.1,670.7 792,675.8 794.2,679.8 C796.4,683.8 797.9,686.7 800,690 C802.1,693.3 806,697.4 806.9,699.6 C807.8,701.8 805.7,702.4 805.5,703"/><path d="M770.1,696.8 C770.6,695.6 771.4,690.7 773,689.7 C774.6,688.8 777.9,691.2 780,691.1 C782.1,691 783.3,688.8 785.7,689 C788.1,689.2 790.9,690.6 794.2,692.6 C797.5,694.6 803.6,699.6 805.5,701"/><path d="M825.3,661.4 C826.4,659.8 829.6,655 832,652 C834.4,649 838.2,644.6 839.4,643.1"/><path d="M757,642 C757.2,644.2 758.1,650.7 758.5,655 C758.9,659.3 759.3,665.8 759.5,668"/><path d="M744,688 C744.5,685.3 745.7,676.3 747,672 C748.3,667.7 751.2,663.7 752,662"/><path class="w" d="M757,632 L757.6,649 Q768,655 779,649 L779.6,632Z"/><path class="w" d="M750.5,618 C750.7,620 750.2,627 751.5,630 C752.8,633 755.2,634.8 758,636 C760.8,637.2 764.7,637.5 768,637.5 C771.3,637.5 775.2,637.2 778,636 C780.8,634.8 783.2,633 784.5,630 C785.8,627 785.3,620 785.5,618Z"/><path d="M750.8,622 C751.8,623.1 754.1,627.1 757,628.5 C759.9,629.9 764.3,630.5 768,630.5 C771.7,630.5 776.1,629.9 779,628.5 C781.9,627.1 784.2,623.1 785.2,622"/><path d="M751,626 C752,627.1 754.2,631.1 757,632.5 C759.8,633.9 764.3,634.5 768,634.5 C771.7,634.5 776.2,633.9 779,632.5 C781.8,631.1 784,627.1 785,626"/><path class="w" d="M751,576 C748,579.6 748.2,585.5 747.5,590 C746.8,594.5 746.4,599.2 746.6,603 C746.8,606.8 747.4,610.2 748.5,613 C749.6,615.8 751.1,618.2 753,620 C754.9,621.8 757.5,622.8 760,623.5 C762.5,624.2 765.3,624.5 768,624.5 C770.7,624.5 773.5,624.2 776,623.5 C778.5,622.8 781.1,621.8 783,620 C784.9,618.2 786.5,615.8 787.5,613 C788.5,610.2 788.9,606.8 789,603 C789.1,599.2 789.5,594.5 788,590 C786.5,585.5 783.6,579.6 779.8,576 C776,572.4 770.2,568.5 765.4,568.5 C760.6,568.5 754,572.4 751,576Z"/><ellipse cx="765.4" cy="578.6" rx="14.4" ry="9.8"/></g>
<g class="t"><path d="M948,356.3 C946.7,357.1 942.3,359.2 940,361 C937.7,362.8 936.3,363.9 934,367.3 C931.7,370.7 928,376.6 926.4,381.2 C924.8,385.8 924.3,391.3 924.5,395.1 C924.7,398.9 926.1,401.5 927.7,404 C929.3,406.5 930.8,408.7 934,410.3 C937.2,411.9 935.7,412.9 946.7,413.5 C957.7,414.1 978.6,412.8 1000,413.8 C1021.4,414.8 1059.1,418 1074.9,419.6 C1090.7,421.2 1091.5,422.7 1094.8,423.3"/><path d="M925,397 C937.5,397.5 970.9,398.5 1000,399.8 C1029.1,401.1 1071.1,403.2 1099.8,404.6 C1128.5,406.1 1160,407.9 1172,408.5"/><path d="M925.1,391.3 C926.8,391.4 933.1,391.4 935.3,392 C937.5,392.6 938,394.2 938.4,395.1 C938.8,396.1 937.9,397.3 937.8,397.7"/><path d="M1129.7,372 C1133.1,374.3 1143,379.9 1150,386 C1157,392.1 1166.4,402.9 1172,408.5 C1177.6,414.1 1181.6,417.5 1183.5,419.3"/><path d="M1134.7,373.4 C1138.9,376.5 1151.9,385.3 1160,392 C1168.1,398.7 1176.9,407.2 1183.5,413.7 C1190.1,420.2 1195.3,425.8 1199.7,431.2 C1204.1,436.6 1207.5,440.9 1210,446 C1212.5,451.1 1213.3,456.3 1214.5,462 C1215.7,467.7 1216.2,473.2 1217,480 C1217.8,486.8 1218.7,499.2 1219,503"/><path d="M1189.8,433.7 C1192.3,434.5 1200.7,436.7 1204.7,438.6 C1208.7,440.5 1212.2,443 1214,444.9 C1215.8,446.8 1216,448.2 1215.3,449.9 C1214.6,451.6 1210.6,454.1 1209.7,454.9"/><path d="M1093.7,419.3 C1095.6,419 1096.9,417.7 1105,417.7 C1113.1,417.7 1131.6,418.8 1142.4,419.3 C1153.2,419.8 1164.4,420.1 1169.8,420.6 C1175.2,421.1 1172.7,420.6 1174.8,422.4 C1176.9,424.2 1181,430 1182.3,431.5"/><path d="M1093.7,419.3 C1094.5,419.9 1094.1,421.6 1098.7,423 C1103.3,424.4 1111.9,426 1121.2,427.4 C1130.5,428.8 1144.6,430.5 1154.8,431.2 C1165,431.9 1177.7,431.7 1182.3,431.8"/><path d="M1121.8,421.8 L1169.8,423.4 L1174.8,431.8"/><path d="M1121.8,421.8 L1129.9,427.6"/><path d="M1129.9,422.3 L1132.6,428 M1138,422.3 L1140.7,428.6 M1146.1,422.3 L1149.4,429.3 M1154.2,422.3 L1157.5,429.9 M1161.7,422.3 L1165.6,430.5 M1169.2,422.3 L1173.7,431.1 "/><path d="M1106.8,444.5 C1106.9,443.9 1106.6,441.8 1107.5,441 C1108.4,440.2 1111.2,440 1112,439.8 L1184,444.2 L1184,444.2 C1185,444.5 1188.7,445.1 1190,446.2 C1191.3,447.3 1191.7,450.2 1192,451 L1195,497 L1195,497 C1194.8,497.8 1194.4,500.5 1193.5,501.5 C1192.6,502.5 1190.2,502.9 1189.5,503.2 L1113,504.2 L1113,504.2 C1112.2,504 1109.5,503.9 1108.5,503 C1107.5,502.1 1107.1,499.7 1106.8,499Z"/><path d="M1115.5,451 C1115.7,450.1 1115.6,447.1 1116.5,445.8 C1117.4,444.6 1120.2,443.9 1121,443.5 L1180,447.7 L1180,447.7 C1181,448.1 1184.6,448.6 1186,450 C1187.4,451.4 1188.1,455 1188.5,456 L1188.5,489 L1188.5,489 C1188.2,490.1 1187.9,494 1186.5,495.5 C1185.1,497 1181.1,497.5 1180,497.9 L1124,497.9 L1124,497.9 C1122.9,497.5 1118.9,497 1117.5,495.5 C1116.1,494 1115.8,490.1 1115.5,489Z"/><path d="M1191,434.9 C1191.7,435.9 1193.8,438.1 1195,441 C1196.2,443.9 1197.4,450.5 1197.9,452.4 L1200.2,504.8"/><circle cx="1111.8" cy="455" r="1.7"/><circle cx="1112.2" cy="490.8" r="1.7"/><rect x="1109.9" y="461.5" width="4" height="25" rx="2"/><path d="M1119.3,446.6 V497.5 M1121.4,446.7 V497.5 M1128.3,445.2 V497.5 M1130.4,445.3 V497.5 M1137.3,445.7 V497.5 M1139.4,445.9 V497.5 M1146.3,446.3 V497.5 M1148.4,446.4 V497.5 M1155.3,446.9 V497.5 M1157.4,447 V497.5 M1164.3,447.4 V497.5 M1166.4,447.5 V497.5 M1173.3,448 V497.5 M1175.4,448.1 V497.5 M1182.3,448.5 V497.5 M1184.4,451.7 V497.5 "/><path class="w" d="M1116.2,458 H1184.5 L1187.8,461.7 H1116.2Z"/><path class="w" d="M1116.2,464.8 H1184.5 L1187.8,468.6 H1116.2Z"/><path class="w" d="M1116.2,471.7 H1184.5 L1187.8,476 H1116.2Z"/><path class="w" d="M1116.2,479.8 H1184.5 L1187.8,483.6 H1116.2Z"/><path class="w" d="M1116.2,487.3 H1184.5 L1187.8,491 H1116.2Z"/><path class="w" d="M1141,472 C1141,471 1142.7,470.2 1144,470 C1145.3,469.8 1147.3,471 1149,471 C1150.7,471 1152.3,470 1154,470 C1155.7,470 1157.8,470.5 1159,471.2 C1160.2,471.9 1161.5,473 1161.5,474 C1161.5,475 1160.2,476.7 1159,477 C1157.8,477.3 1155.7,476 1154,476 C1152.3,476 1150.7,477.2 1149,477.2 C1147.3,477.2 1145.3,476.9 1144,476 C1142.7,475.1 1141,473 1141,472Z"/></g>
<g class="x"><path d="M942.1,500 C942.1,490.8 941.9,455.3 942.1,444.9 C942.3,434.5 942.6,440 943.4,437.4 C944.2,434.8 945.1,431.1 947,429 C948.9,426.9 953.7,425.3 955,424.6 L955,424.6 C962.4,424 983.8,421.6 999.5,421.2 C1015.2,420.8 1036.8,421.8 1049.4,422.5 C1062,423.2 1068.8,424.3 1074.9,425.5 C1081,426.7 1082.7,427.8 1086,429.5 C1089.3,431.2 1092.3,433.3 1094.8,435.5 C1097.3,437.7 1099.6,440.1 1101,442.5 C1102.4,444.9 1102.9,448.8 1103.3,450 L1103.3,502 L945,507.5" fill="none" stroke="#231f20" stroke-width="2.2" stroke-dasharray="9.5,6.5" stroke-dashoffset="0"/></g>
<g class="t"><path d="M877.2,599 C879.3,594.1 885.1,579.2 889.7,569.7 C894.3,560.2 898.9,549.7 904.7,542.2 C910.5,534.7 917.2,529.2 924.7,524.8 C932.2,520.4 937.1,518.3 949.6,516 C962.1,513.7 972.9,512.5 999.5,511 C1026.1,509.6 1075.9,508.3 1109.3,507.3 C1142.7,506.3 1184.9,505.4 1200,505 L1219,503.8"/><path d="M897.2,599.6 C899.7,595.5 906.8,582.2 912.2,574.7 C917.6,567.2 923.4,559.7 929.6,554.7 C935.8,549.7 938,547.6 949.6,544.7 C961.2,541.8 974.5,539.5 999.5,537.2 C1024.5,534.9 1066.6,532.3 1099.8,531 C1133,529.7 1182,529.5 1198.4,529.2"/><path d="M924.7,564.7 C927.2,563.2 933.4,558.4 939.6,555.9 C945.8,553.4 949.5,551.8 962,549.7 C974.5,547.6 991.5,545.4 1014.5,543.5 C1037.5,541.6 1073.1,539.8 1099.8,538.5 C1126.5,537.2 1162.1,536 1174.6,535.5"/><path d="M904.7,599.6 C907.2,597.1 913.9,589.2 919.7,584.6 C925.5,580 930.5,575.3 939.6,572.2 C948.8,569.1 956.3,567.1 974.6,565.9 C992.9,564.6 1024.4,565.7 1049.4,564.7 C1074.4,563.7 1112.2,560.5 1124.8,559.7"/><path d="M1124.8,559.7 L1198.4,529.2 L1195.9,603.5"/><path d="M1124.8,559.7 L1124.8,603.3"/><path d="M897.5,601.3 L1000,602 L1124.8,603.3 L1196,604"/><path d="M1124.8,602 L1196,602.3"/><path d="M904.7,712.3 C903.9,706.1 901.4,686.1 899.7,674.9 C898,663.7 895,653.8 894.5,645 C894,636.2 895.7,627.1 896.8,622.4 C897.9,617.6 899.1,618 901,616.5 C902.9,615 904,614.5 908,613.6 C912,612.7 907.7,612 924.8,611.2 C941.9,610.4 984,609.8 1010.8,608.9 C1037.6,608 1062.3,606.6 1085.5,605.9 C1108.7,605.2 1131.6,604.9 1150,604.6 C1168.4,604.3 1188.3,604.3 1196,604.2"/><path d="M896,642 C896.5,640.8 897.7,637.1 898.7,635 C899.7,632.9 900.5,631 902,629.5 C903.5,628 904.8,627 908,625.8 C911.2,624.6 904,623.8 921.1,622.4 C938.2,621 983.4,619.3 1010.8,617.7 C1038.2,616.1 1062.3,614.2 1085.5,613 C1108.7,611.8 1127.7,611.2 1150,610.4 C1172.3,609.6 1207.9,608.4 1219.5,608"/></g>
<g class="k"><path class="w" fill-rule="evenodd" d="M636.4,453.8 C636,461.9 635,470 633.5,477.9 C632,485.8 629.9,493.7 627.3,501.4 C624.7,509.1 621.5,516.6 617.9,523.9 C614.2,531.2 610,538.3 605.4,545.1 C600.7,551.9 595.6,558.4 590,564.5 C584.5,570.7 578.4,576.5 572,581.9 C565.7,587.3 558.9,592.4 551.8,596.9 C544.7,601.5 537.2,605.7 529.6,609.3 C521.9,613 513.9,616.2 505.8,618.9 C497.7,621.6 489.3,623.9 480.9,625.5 C472.5,627.2 463.9,628.4 455.3,629 C446.7,629.7 437.9,629.8 429.3,629.4 C420.7,629 412,628 403.5,626.6 C395,625.1 386.6,623.1 378.3,620.6 C370.1,618.1 362,615.1 354.1,611.7 C346.3,608.2 338.7,604.2 331.4,599.8 C324.1,595.4 317.1,590.6 310.5,585.3 C303.9,580.1 297.6,574.4 291.8,568.4 C286,562.5 280.5,556.1 275.6,549.4 C270.6,542.8 266.1,535.8 262.1,528.6 C258.2,521.4 254.7,513.9 251.7,506.3 C248.8,498.7 246.3,490.9 244.5,483 C242.6,475.1 241.3,467.1 240.6,459 C239.8,451 239.6,442.8 240,434.8 C240.4,426.7 241.4,418.6 242.9,410.7 C244.4,402.8 246.5,394.9 249.1,387.2 C251.7,379.5 254.9,372 258.5,364.7 C262.2,357.4 266.4,350.3 271,343.5 C275.7,336.7 280.8,330.2 286.4,324.1 C291.9,317.9 298,312.1 304.4,306.7 C310.7,301.3 317.5,296.2 324.6,291.7 C331.7,287.1 339.2,282.9 346.8,279.3 C354.5,275.6 362.5,272.4 370.6,269.7 C378.7,267 387.1,264.7 395.5,263.1 C403.9,261.4 412.5,260.2 421.1,259.6 C429.7,258.9 438.5,258.8 447.1,259.2 C455.7,259.6 464.4,260.6 472.9,262 C481.4,263.5 489.8,265.5 498.1,268 C506.3,270.5 514.4,273.5 522.3,276.9 C530.1,280.4 537.7,284.4 545,288.8 C552.3,293.2 559.3,298 565.9,303.3 C572.5,308.5 578.8,314.2 584.6,320.2 C590.4,326.1 595.9,332.5 600.8,339.2 C605.8,345.8 610.3,352.8 614.3,360 C618.2,367.2 621.7,374.7 624.7,382.3 C627.6,389.9 630.1,397.7 631.9,405.6 C633.8,413.5 635.1,421.5 635.8,429.6 C636.6,437.6 636.8,445.8 636.4,453.8Z M289.3,393.8 C288.7,392.8 285.6,390.5 285.6,387.5 C285.6,384.5 287.5,379.6 289.3,375.9 C291.1,372.2 292.9,370.5 296.3,365.5 C299.7,360.5 303.8,352.9 309.6,346.1 C315.4,339.3 323.4,331 331.1,324.6 C338.8,318.2 347.7,312.4 356,308 C364.3,303.6 372.5,300.7 380.8,298 C389.1,295.3 397.6,293.1 405.7,291.6 C413.8,290.1 421.9,289.5 429.3,289 C436.7,288.5 443.7,288.6 450,288.7 C456.3,288.8 461.5,289 467,289.6 C472.5,290.2 477.6,291 483.1,292.3 C488.6,293.6 494.5,295.4 500,297.5 C505.5,299.6 509.4,300.7 516.3,304.7 C523.1,308.7 533.4,315.2 541.1,321.3 C548.8,327.4 556.9,334.8 562.7,341.1 C568.5,347.5 572,353.6 575.9,359.4 C579.8,365.2 583.5,371.5 585.9,375.9 C588.2,380.3 589.7,383.1 590,385.9 C590.3,388.7 589.3,390.9 587.5,392.5 C585.7,394.1 580.6,395.2 579.2,395.8 L541.7,404 A109.8,98 0 0 0 336,402.5 Z M278.7,457.2 C276.7,458.2 274.8,459.9 274.2,463 C273.6,466.1 273.8,469.9 275.2,475.6 C276.6,481.3 278.7,489.4 282.3,497.2 C285.9,505 290.7,513.3 296.7,522.3 C302.7,531.3 311.1,543.2 318.3,551 C325.5,558.8 332.1,564.1 339.9,569 C347.7,573.9 357.5,578.1 365,580.5 C372.5,582.9 379.3,583.5 385,583.2 C390.7,582.9 395.8,581.1 399.3,578.5 C402.8,575.9 404.5,571.2 405.8,567.3 C407.1,563.4 407.8,559.4 407,555 C406.2,550.6 404.5,545 401,541 C397.5,537 391.7,534.4 386,531 C380.3,527.6 373.2,525 367,520.5 C360.8,516 354,509.7 349,504 C344,498.3 340.2,491.4 337,486.4 C333.8,481.4 333.1,477.7 330,474 C326.9,470.3 323.2,466.5 318.3,464 C313.4,461.5 305.7,460 300.3,458.8 C294.9,457.6 289.6,457 286,456.7 C282.4,456.4 280.7,456.1 278.7,457.2Z M548.8,466.5 C553.3,462.1 563,461.6 569.8,460 C576.6,458.4 585.2,457.4 589.7,457 C594.2,456.6 595.3,456.7 597,457.5 C598.7,458.3 599.6,458.6 600,462 C600.4,465.4 600.6,471.2 599.3,478 C598,484.8 595.5,494.8 592,503 C588.5,511.2 583.4,519.5 578,527 C572.6,534.5 567,541.3 559.8,548 C552.6,554.7 543.1,561.8 534.8,567 C526.5,572.2 517.4,576.8 509.9,579.5 C502.4,582.2 495.5,583.7 489.9,583.5 C484.2,583.3 479.5,581.6 476,578.5 C472.5,575.4 469.9,569.4 468.7,565 C467.5,560.6 467.8,555.8 469,552 C470.2,548.2 472.2,545 476,542.3 C479.8,539.5 486.2,538.3 492,535.5 C497.8,532.7 504.5,530.2 511,525.5 C517.5,520.8 525.5,514 530.8,507.5 C536.1,500.9 539.8,493 542.8,486.2 C545.8,479.4 544.3,470.9 548.8,466.5Z"/><path d="M336,402.5 A109.8,98 0 0 0 329.3,430"/></g>
<g class="t"><path d="M329.3,430 C329.2,431.7 328.6,435 329,440 C329.4,445 330.2,453.3 332,460 C333.8,466.7 336.3,473.3 340,480 C343.7,486.7 348.1,493.8 354.1,500.2 C360.1,506.6 368.5,513.6 376.2,518.3 C383.9,523 392.6,525.9 400.3,528.3 C408,530.7 415.4,531.8 422.4,532.7 C429.4,533.6 434.5,534.3 442.5,533.9 C450.5,533.5 461.8,532.6 470.5,530.3 C479.2,528 486.2,525 494.6,520.3 C503,515.6 513.7,508.2 520.7,502.2 C527.7,496.2 532.8,490.2 536.8,484.2 C540.8,478.2 543,473.5 544.8,466.1 C546.6,458.7 547.5,447.7 547.8,440 C548.1,432.3 547.5,426 546.5,420 C545.5,414 542.5,406.7 541.7,404"/><path d="M329.5,432 C330.6,431.8 333.8,431.5 336,431 C338.2,430.5 339.7,428.6 342.5,429 C345.3,429.4 350.3,431.3 353,433.5 C355.7,435.7 356.3,437.6 358.5,442 C360.7,446.4 362.6,454.3 366.2,460 C369.8,465.7 374.8,471.3 380.2,476 C385.6,480.7 393.6,484.5 398.3,488.2 C403,491.9 406,494.5 408.3,498.2 C410.6,501.9 411.5,505.2 412.3,510.2 C413.1,515.2 413.2,525.3 413.4,528.3"/><path d="M547.5,431 C546.4,430.8 543.4,430.2 541,430 C538.6,429.8 536,429.3 533,430 C530,430.7 525.5,431.8 523,434 C520.5,436.2 520,438.7 518,443 C516,447.3 514.6,454.2 510.7,460 C506.8,465.8 500.3,473.3 494.6,478 C488.9,482.7 481.3,484.6 476.6,488 C471.9,491.4 468.7,494.5 466.5,498.2 C464.3,501.9 463.8,504.7 463.5,510.2 C463.2,515.7 464.3,527.8 464.5,531.3"/><ellipse cx="437.1" cy="418.5" rx="39.9" ry="35.5"/><ellipse cx="437.3" cy="418.5" rx="31.9" ry="28.3"/><path d="M413.6,402.2 C412.7,404.5 412.4,408.2 412.7,411.9 C412.9,415.6 413.9,420.5 415.1,424.6 C416.3,428.7 418.1,433.5 420,436.3 C421.9,439.1 423.9,440.6 426.8,441.6 C429.7,442.7 433.9,442.6 437.5,442.6 C441.1,442.6 445.3,442.5 448.2,441.6 C451.1,440.7 453.1,439.5 455,437.3 C456.9,435.1 458.2,432.1 459.4,428.5 C460.6,424.9 462,419.4 462.4,415.8 C462.8,412.2 462.6,409.8 461.9,407 C461.2,404.2 460.3,401.2 458,399.2 C455.7,397.2 451.6,395.9 448.2,395.1 C444.8,394.3 441.1,394.4 437.5,394.4 C433.9,394.4 430.1,394.5 426.8,395.1 C423.6,395.8 420.2,397.1 418,398.3 C415.8,399.5 414.5,399.9 413.6,402.2Z"/><path d="M417.5,403.1 C416.9,405.1 416.1,408.3 416.3,411.9 C416.5,415.5 417.4,420.7 418.5,424.6 C419.6,428.5 421.2,432.9 422.9,435.3 C424.6,437.7 426.3,438.3 428.7,439 C431.1,439.7 434.6,439.7 437.5,439.7 C440.4,439.7 443.9,439.7 446.3,439 C448.7,438.3 450.4,437.7 452.1,435.3 C453.8,432.9 455.4,428.5 456.5,424.6 C457.6,420.7 458.6,415.4 458.9,411.9 C459.1,408.4 458.6,405.6 458,403.6 C457.4,401.6 456.8,400.6 455,399.7 C453.2,398.8 450.2,398.6 447.3,398.3 C444.4,398 440.8,397.8 437.5,397.8 C434.2,397.8 430.7,397.9 427.8,398.3 C424.9,398.7 421.7,399.2 420,400 C418.3,400.8 418.1,401.1 417.5,403.1Z"/></g>
<g class="x"><text x="437.3" y="429.9" font-family="Liberation Sans,sans-serif" font-weight="bold" font-size="31.4" text-anchor="middle" textLength="28.5" lengthAdjust="spacingAndGlyphs" fill="#231f20">FIAT</text></g>
<g class="t"><path d="M379.5,291.5 C375.6,292.6 365.6,294.3 356.2,298.2 C346.8,302.1 333,308.4 323,314.8 C313,321.2 303.6,329.2 296.4,336.4 C289.2,343.6 284.1,350.2 279.8,358 C275.5,365.8 272.1,377.9 270.7,382.9 C269.3,387.9 270.8,385.7 271.5,387.9 C272.2,390.1 272.7,393.6 274.9,396.2 C277.1,398.8 275.7,400.6 284.8,403.7 C293.9,406.8 322.2,412.7 329.7,414.5"/><path d="M498,291.4 C501,292.3 510.2,294.8 516,297 C521.8,299.2 524.6,299.3 532.9,304.7 C541.2,310.1 556.4,320.9 566,329.5 C575.6,338.1 584.7,348.3 590.8,356 C596.9,363.7 599.9,370.6 602.4,375.9 C604.9,381.1 606.3,383.6 605.8,387.5 C605.2,391.4 603,396.1 599.1,399.1 C595.2,402.2 591.4,403.3 582.6,405.8 C573.8,408.3 552.2,412.6 546.1,414"/><path d="M327.3,454 C326.4,452.8 325.9,448.9 322,446.8 C318.1,444.7 311.8,442.4 304,441.4 C296.2,440.3 282.2,439 275,440.5 C267.8,442 263.8,447 260.8,450.4 C257.8,453.8 257,455 257,461 C257,467 258.4,478 260.8,486.4 C263.2,494.8 267.3,503.2 271.5,511.6 C275.7,520 280,528.3 286,536.7 C292,545.1 298.5,554 307.5,562 C316.5,570 329.6,579.1 340,584.5 C350.4,589.9 361.8,592.8 370.2,594.5 C378.6,596.2 384.6,595.8 390.3,594.5 C396,593.2 400.3,590.5 404.3,586.5 C408.3,582.5 412.2,576.1 414.4,570.4 C416.6,564.7 417.8,558.1 417.4,552.4 C417,546.7 415.1,540.1 412.3,536.3 C409.5,532.4 402.3,530.5 400.3,529.3"/><path d="M547.3,449.9 C551.9,448.4 566.1,442.2 574.8,441 C583.5,439.8 593.5,440.9 599.7,442.4 C605.9,443.9 609.5,446.1 612,449.9 C614.5,453.6 615.1,458.2 614.7,464.9 C614.3,471.5 612.3,482.2 609.7,489.8 C607.1,497.4 603.8,501.8 599,510.2 C594.2,518.6 588.9,530.6 580.9,540.3 C572.9,550 562.5,560.7 550.8,568.4 C539.1,576.1 520.7,583.1 510.7,586.5 C500.7,589.9 496.6,589.8 490.6,588.5 C484.6,587.2 477.3,580.2 474.6,578.5"/><path d="M381.2,600.5 C386.1,601.9 400.1,606.8 410.3,608.6 C420.5,610.5 432.5,611.6 442.5,611.6 C452.5,611.6 461.5,610.5 470.5,608.6 C479.5,606.8 492.2,601.9 496.6,600.5"/><path d="M396,560 C396.3,558 396.8,550.5 398,548 C399.2,545.5 401.7,544.7 403,545 C404.3,545.3 405.5,549.2 406,550"/></g>
<g class="ld"><path d="M233.6,247.7 V446"/><path d="M297.3,247.7 V474.5"/><path d="M358.3,247.7 V355"/><path d="M569.8,247.7 V476"/><path d="M669,247.7 V422"/><path d="M786.8,247.7 V316"/><path d="M909.2,247.7 V422"/><path d="M1022.7,247.7 V380"/><path d="M1152.7,247.7 V452"/><path d="M233.6,767.2 V586"/><path d="M320.7,767.2 V515"/><path d="M441.9,767.2 V506"/><path d="M536.8,767.2 V551.4"/><path d="M655.1,767.2 V551 L723,481"/><path d="M738.7,767.2 V619"/><path d="M831.6,767.2 V619"/><path d="M930.6,767.2 V638.7 L853.5,566.7"/><path d="M1012.5,767.2 V471"/><path d="M1086.8,767.2 V591"/></g>
<circle cx="233.6" cy="247.7" r="17.3" fill="#231f20"/><text class="cn" x="233.6" y="256.8" font-size="28.6">1</text><circle cx="297.3" cy="247.7" r="17.3" fill="#231f20"/><text class="cn" x="297.3" y="256.8" font-size="28.6">2</text><circle cx="358.3" cy="247.7" r="17.3" fill="#231f20"/><text class="cn" x="358.3" y="256.8" font-size="28.6">3</text><circle cx="569.8" cy="247.7" r="17.3" fill="#231f20"/><text class="cn" x="569.8" y="256.8" font-size="28.6">4</text><circle cx="669" cy="247.7" r="17.3" fill="#231f20"/><text class="cn" x="669" y="256.8" font-size="28.6">5</text><circle cx="786.8" cy="247.7" r="17.3" fill="#231f20"/><text class="cn" x="786.8" y="256.8" font-size="28.6">6</text><circle cx="909.2" cy="247.7" r="17.3" fill="#231f20"/><text class="cn" x="909.2" y="256.8" font-size="28.6">5</text><circle cx="1022.7" cy="247.7" r="17.3" fill="#231f20"/><text class="cn" x="1022.7" y="256.8" font-size="28.6">7</text><circle cx="1152.7" cy="247.7" r="17.3" fill="#231f20"/><text class="cn" x="1152.7" y="256.8" font-size="28.6">1</text><circle cx="233.6" cy="767.2" r="17.3" fill="#231f20"/><text class="cn" x="233.6" y="776.9" font-size="28.6" textLength="27" lengthAdjust="spacingAndGlyphs">11</text><circle cx="320.7" cy="767.2" r="17.3" fill="#231f20"/><text class="cn" x="320.7" y="776.9" font-size="28.6" textLength="27" lengthAdjust="spacingAndGlyphs">15</text><circle cx="441.9" cy="767.2" r="17.3" fill="#231f20"/><text class="cn" x="441.9" y="776.9" font-size="28.6" textLength="27" lengthAdjust="spacingAndGlyphs">14</text><circle cx="536.8" cy="767.2" r="17.3" fill="#231f20"/><text class="cn" x="536.8" y="776.9" font-size="28.6" textLength="27" lengthAdjust="spacingAndGlyphs">13</text><circle cx="655.1" cy="767.2" r="17.3" fill="#231f20"/><text class="cn" x="655.1" y="776.9" font-size="28.6" textLength="27" lengthAdjust="spacingAndGlyphs">12</text><circle cx="738.7" cy="767.2" r="17.3" fill="#231f20"/><text class="cn" x="738.7" y="776.9" font-size="28.6" textLength="27" lengthAdjust="spacingAndGlyphs">11</text><circle cx="831.6" cy="767.2" r="17.3" fill="#231f20"/><text class="cn" x="831.6" y="776.9" font-size="28.6" textLength="27" lengthAdjust="spacingAndGlyphs">11</text><circle cx="930.6" cy="767.2" r="17.3" fill="#231f20"/><text class="cn" x="930.6" y="776.9" font-size="28.6" textLength="27" lengthAdjust="spacingAndGlyphs">10</text><circle cx="1012.5" cy="767.2" r="17.3" fill="#231f20"/><text class="cn" x="1012.5" y="776.9" font-size="28.6">9</text><circle cx="1086.8" cy="767.2" r="17.3" fill="#231f20"/><text class="cn" x="1086.8" y="776.9" font-size="28.6">8</text><path fill="#231f20" d="M225.5,252.5 H231.8 V257.7 H225.5Z M237,252.5 H242.6 V257.7 H237Z"/><path fill="#231f20" d="M1144.5,252.5 H1150.9 V257.7 H1144.5Z M1156.1,252.5 H1161.7 V257.7 H1156.1Z"/><path fill="#231f20" d="M219.9,772.6 H225.3 V777.8 H219.9Z M229.7,772.6 H234.4 V777.8 H229.7Z"/><path fill="#231f20" d="M233.4,772.6 H238.8 V777.8 H233.4Z M243.2,772.6 H247.9 V777.8 H243.2Z"/><path fill="#231f20" d="M307,772.6 H312.4 V777.8 H307Z M316.8,772.6 H321.5 V777.8 H316.8Z"/><path fill="#231f20" d="M428.2,772.6 H433.6 V777.8 H428.2Z M438,772.6 H442.7 V777.8 H438Z"/><path fill="#231f20" d="M523.1,772.6 H528.5 V777.8 H523.1Z M532.9,772.6 H537.6 V777.8 H532.9Z"/><path fill="#231f20" d="M641.4,772.6 H646.8 V777.8 H641.4Z M651.2,772.6 H655.9 V777.8 H651.2Z"/><path fill="#231f20" d="M725,772.6 H730.4 V777.8 H725Z M734.8,772.6 H739.5 V777.8 H734.8Z"/><path fill="#231f20" d="M738.5,772.6 H743.9 V777.8 H738.5Z M748.3,772.6 H753 V777.8 H748.3Z"/><path fill="#231f20" d="M817.9,772.6 H823.3 V777.8 H817.9Z M827.7,772.6 H832.4 V777.8 H827.7Z"/><path fill="#231f20" d="M831.4,772.6 H836.8 V777.8 H831.4Z M841.2,772.6 H845.9 V777.8 H841.2Z"/><path fill="#231f20" d="M916.9,772.6 H922.3 V777.8 H916.9Z M926.7,772.6 H931.4 V777.8 H926.7Z"/>
</svg>
</div></body></html>
